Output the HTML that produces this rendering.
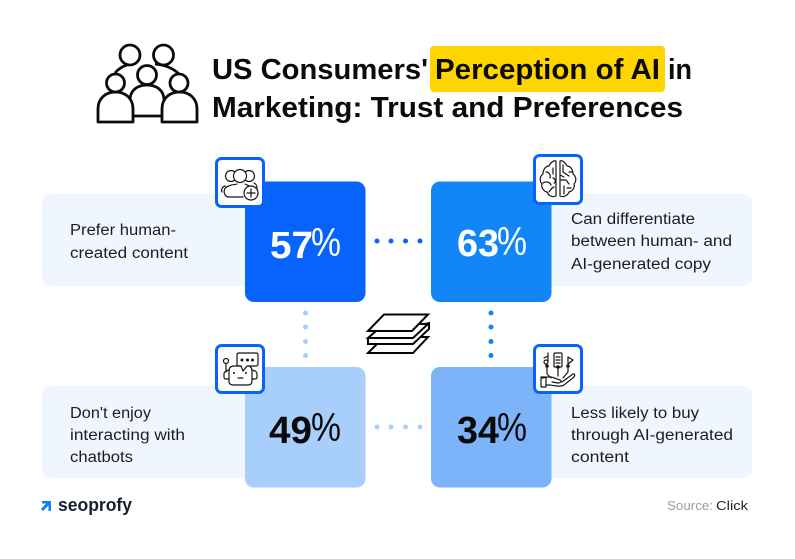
<!DOCTYPE html>
<html lang="en">
<head>
<meta charset="utf-8">
<title>US Consumers' Perception of AI in Marketing</title>
<style>
html,body{margin:0;padding:0;background:#fff;}
svg{display:block;}
text{font-family:"Liberation Sans",sans-serif;}
.title{font-size:29px;font-weight:700;fill:#0b0b0b;}
.label{font-size:15.5px;fill:#1b1d24;}
.pct{font-size:38px;font-weight:700;}
.sym{font-size:40px;font-weight:400;}
.ic{fill:none;stroke:#151515;stroke-width:1.2;stroke-linecap:round;stroke-linejoin:round;}
.big{fill:#fff;stroke:#0b0b0b;stroke-width:2.8;stroke-linejoin:round;}
</style>
</head>
<body>
<svg xmlns="http://www.w3.org/2000/svg" width="795" height="559" viewBox="0 0 795 559">
<rect width="795" height="559" fill="#fff"/>

<g>
  <path class="big" fill="none" style="fill:none" d="M115 73C119 68 125 65 131 64M155 64C165 65 173 68 179 74"/>
  <circle class="big" cx="130" cy="55" r="10"/>
  <circle class="big" cx="163.500" cy="55" r="10"/>
  <path class="big" d="M130 100C130 90 138 85 147 85C156 85 164 90 164 100L164 116L130 116Z"/>
  <circle class="big" cx="147" cy="75" r="9.500"/>
  <path class="big" d="M98 122L98 109C98 98 106 92 115.500 92C125 92 133 98 133 109L133 122Z"/>
  <circle class="big" cx="115.500" cy="83" r="9"/>
  <path class="big" d="M162 122L162 109C162 98 170 92 179.500 92C189 92 197 98 197 109L197 122Z"/>
  <circle class="big" cx="179" cy="83" r="9"/>
</g>

<rect x="430" y="46" width="235" height="46" rx="4" fill="#ffd500"/>
<g>
  <text class="title" x="212" y="79" textLength="216" lengthAdjust="spacingAndGlyphs">US Consumers'</text>
  <text class="title" x="435" y="79" textLength="225" lengthAdjust="spacingAndGlyphs">Perception of AI</text>
  <text class="title" x="668" y="79" textLength="24" lengthAdjust="spacingAndGlyphs">in</text>
  <text class="title" x="212" y="117" textLength="471" lengthAdjust="spacingAndGlyphs">Marketing: Trust and Preferences</text>
</g>

<rect x="42" y="194" width="230" height="92" rx="9" fill="#eff6fe"/>
<rect x="525" y="194" width="227" height="92" rx="9" fill="#eff6fe"/>
<rect x="42" y="386" width="230" height="92" rx="9" fill="#eff6fe"/>
<rect x="525" y="386" width="227" height="92" rx="9" fill="#eff6fe"/>

<rect x="245" y="181.500" width="120.500" height="120.500" rx="9" fill="#0763fb"/>
<rect x="431" y="181.500" width="120.500" height="120.500" rx="9" fill="#1285f7"/>
<rect x="245" y="367" width="120.500" height="120.500" rx="9" fill="#a8cefc"/>
<rect x="431" y="367" width="120.500" height="120.500" rx="9" fill="#7db4f9"/>

<g fill="#fff"><text class="pct" x="270" y="258" textLength="43" lengthAdjust="spacingAndGlyphs">57</text><text class="sym" x="311" y="256" textLength="30" lengthAdjust="spacingAndGlyphs">%</text></g>
<g fill="#fff"><text class="pct" x="457" y="256" textLength="42" lengthAdjust="spacingAndGlyphs">63</text><text class="sym" x="497" y="255" textLength="30" lengthAdjust="spacingAndGlyphs">%</text></g>
<g fill="#0a0a0a"><text class="pct" x="269" y="443" textLength="43" lengthAdjust="spacingAndGlyphs">49</text><text class="sym" x="311" y="441" textLength="30" lengthAdjust="spacingAndGlyphs">%</text></g>
<g fill="#0a0a0a"><text class="pct" x="457" y="443" textLength="42" lengthAdjust="spacingAndGlyphs">34</text><text class="sym" x="497" y="441" textLength="30" lengthAdjust="spacingAndGlyphs">%</text></g>

<g>
  <text class="label" x="70" y="235" textLength="106" lengthAdjust="spacingAndGlyphs">Prefer human-</text>
  <text class="label" x="70" y="258" textLength="118" lengthAdjust="spacingAndGlyphs">created content</text>
</g>
<g>
  <text class="label" x="571" y="224" textLength="124" lengthAdjust="spacingAndGlyphs">Can differentiate</text>
  <text class="label" x="571" y="246" textLength="161" lengthAdjust="spacingAndGlyphs">between human- and</text>
  <text class="label" x="571" y="269" textLength="140" lengthAdjust="spacingAndGlyphs">AI-generated copy</text>
</g>
<g>
  <text class="label" x="70" y="418" textLength="81" lengthAdjust="spacingAndGlyphs">Don't enjoy</text>
  <text class="label" x="70" y="440" textLength="115" lengthAdjust="spacingAndGlyphs">interacting with</text>
  <text class="label" x="70" y="462" textLength="63" lengthAdjust="spacingAndGlyphs">chatbots</text>
</g>
<g>
  <text class="label" x="571" y="418" textLength="128" lengthAdjust="spacingAndGlyphs">Less likely to buy</text>
  <text class="label" x="571" y="440" textLength="162" lengthAdjust="spacingAndGlyphs">through AI-generated</text>
  <text class="label" x="571" y="462" textLength="58" lengthAdjust="spacingAndGlyphs">content</text>
</g>

<g fill="#0763fb"><circle cx="377" cy="241" r="2.500"/><circle cx="391" cy="241" r="2.500"/><circle cx="405.500" cy="241" r="2.500"/><circle cx="420" cy="241" r="2.500"/></g>
<g fill="#a8cefc"><circle cx="377" cy="427" r="2.500"/><circle cx="391" cy="427" r="2.500"/><circle cx="405.500" cy="427" r="2.500"/><circle cx="420" cy="427" r="2.500"/></g>
<g fill="#a8cefc"><circle cx="305.500" cy="313" r="2.500"/><circle cx="305.500" cy="327" r="2.500"/><circle cx="305.500" cy="341.500" r="2.500"/><circle cx="305.500" cy="355.500" r="2.500"/></g>
<g fill="#1285f7"><circle cx="491" cy="313" r="2.500"/><circle cx="491" cy="327" r="2.500"/><circle cx="491" cy="341.500" r="2.500"/><circle cx="491" cy="355.500" r="2.500"/></g>

<g fill="#fff" stroke="#050505" stroke-width="2" stroke-linejoin="miter">
  <path d="M368 353L384 337L428 337L413 353Z"/>
  <path d="M368 338L368 344L413 344L429 329L429 323Z"/>
  <path d="M368 338L384 324L428 324L413 338Z"/>
  <path d="M368 331L384 314.500L428 314.500L412 331Z"/>
</g>

<g>
  <rect x="216.500" y="158.500" width="47" height="48" rx="5" fill="#fff" stroke="#0763fb" stroke-width="3"/>
  <g class="ic">
    <path d="M229 197C223 197 222 187 229 186C232 184 235 185 237 184M245 184C249 186 252 187 254 190"/>
    <circle cx="231" cy="176" r="5.500"/>
    <circle cx="249" cy="176" r="5.500"/>
    <circle cx="240" cy="176" r="6.500" fill="#fff"/>
    <path d="M225 186C222 187 221 190 222 192M254 183C256 184 257 186 257 188M229 197L243 197"/>
    <circle cx="251" cy="193" r="7" fill="#fff"/>
    <path d="M251 189L251 197M247 193L255 193"/>
  </g>
</g>

<g>
  <rect x="534.500" y="155.500" width="47" height="48" rx="5" fill="#fff" stroke="#0763fb" stroke-width="3"/>
  <g class="ic">
    <path d="M556 161L556 196C552 198 548 195 547 192C543 191 541 187 542 184C539 181 540 176 543 174C543 169 546 166 549 166C551 162 554 160 556 161Z"/>
    <path d="M560 161L560 196C564 198 568 195 569 192C573 191 575 187 574 184C577 181 576 176 573 174C573 169 570 166 567 166C565 162 562 160 560 161Z"/>
    <path d="M546 172C549 172 551 175 550 178M543 183C546 181 550 182 551 185M549 192C551 190 551 188 554 187M553 168L553 174M553 178C556 179 556 183 554 183"/>
    <path d="M563 165L563 172L569 176M560 180L566 180L569 184M564 186L564 194M569 172L572 172M560 175L564 177M567 188L571 188"/>
  </g>
</g>

<g>
  <rect x="216.500" y="345.500" width="47" height="47" rx="5" fill="#fff" stroke="#0763fb" stroke-width="3"/>
  <g class="ic">
    <path d="M239 353L256 353Q258 353 258 355L258 364Q258 366 256 366L247 366L243 371L241 366L239 366Q237 366 237 364L237 355Q237 353 239 353Z"/>
    <path d="M241 366L234 366Q229 366 229 371L229 381Q229 385 233 385L248 385Q252 385 252 381L252 371Q252 367 249 366"/>
    <path d="M229 370L226 371Q224 372 224 374L224 377Q224 379 226 379L229 379M252 370L255 371Q257 372 257 374L257 377Q257 379 255 379L252 379"/>
    <circle cx="226" cy="361" r="2.500"/>
    <path d="M226 364L226 372M238 378L243 378"/>
  </g>
  <g fill="#151515"><circle cx="242" cy="360" r="1.500"/><circle cx="247.500" cy="360" r="1.500"/><circle cx="252.500" cy="360" r="1.500"/><circle cx="234" cy="373" r="1"/><circle cx="246" cy="373" r="1"/></g>
</g>

<g>
  <rect x="534.500" y="345.500" width="47" height="47" rx="5" fill="#fff" stroke="#0763fb" stroke-width="3"/>
  <g class="ic">
    <rect x="554" y="353" width="8" height="14" rx="1"/>
    <path d="M556 357L560 357M556 360L560 360M556 363L560 363"/>
    <path d="M568 357L573 360L568 364Z"/>
    <path d="M548 353L548 362M544 358L548 356"/>
    <circle cx="546" cy="362" r="2"/>
    <path d="M547 366L547 374L551 378M558 367L558 376M568 366L568 372L563 378"/>
    <circle cx="547" cy="366" r="1.200"/><circle cx="558" cy="367" r="1.200"/><circle cx="568" cy="366" r="1.200"/>
    <path d="M542 378L548 377C552 376 556 379 560 380C562 381 561 383 558 383L552 382M562 382L573 374C575 373 575 376 574 377L564 385C561 387 556 386 550 385L546 385"/>
    <rect x="541" y="377" width="5" height="10"/>
  </g>
</g>

<g>
  <path d="M42 501L51 501L51 511L48.500 511L48.500 505.500L43 511L41 509L46 503.500L42 503.500Z" fill="#0a84f5"/>
  <text x="58" y="511" font-size="18.500" font-weight="700" fill="#172033" textLength="74" lengthAdjust="spacingAndGlyphs">seoprofy</text>
</g>
<g>
  <text x="667" y="510" font-size="13" fill="#9a9ca3" textLength="46" lengthAdjust="spacingAndGlyphs">Source:</text>
  <text x="716" y="510" font-size="13" fill="#20232b" textLength="32" lengthAdjust="spacingAndGlyphs">Click</text>
</g>
</svg>
</body>
</html>
